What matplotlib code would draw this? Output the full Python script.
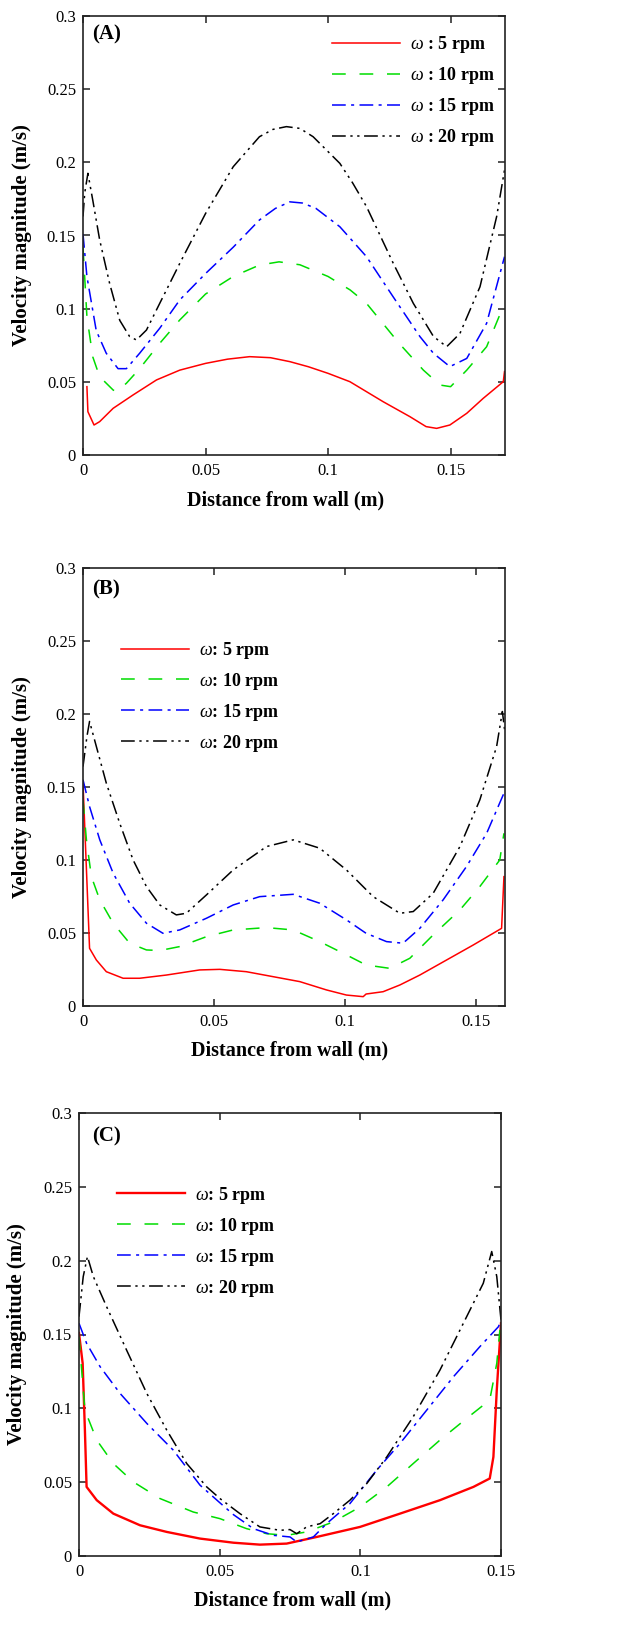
import matplotlib
matplotlib.use("Agg")
import matplotlib.pyplot as plt

plt.rcParams['font.family'] = ['Liberation Serif', 'DejaVu Serif']
plt.rcParams['mathtext.fontset'] = 'custom'
plt.rcParams['mathtext.it'] = 'Liberation Serif:italic'
plt.rcParams['mathtext.rm'] = 'Liberation Serif'

# ---------------- data ----------------
rpm_labels = ["5 rpm", "10 rpm", "15 rpm", "20 rpm"]

# Panel A
A_x_5 = [0.0016, 0.002, 0.0045, 0.0068, 0.0123, 0.0204, 0.030, 0.0395, 0.05, 0.059, 0.068, 0.0765, 0.0844,
         0.092, 0.1, 0.1089, 0.1225, 0.1334, 0.140, 0.1443, 0.1497, 0.1566, 0.1633, 0.1715, 0.172]
A_v_5 = [0.0467, 0.0296, 0.0205, 0.0228, 0.0319, 0.041, 0.0513, 0.058, 0.0626, 0.0655, 0.0672, 0.0665, 0.0638,
         0.0603, 0.0558, 0.0501, 0.0364, 0.0262, 0.0194, 0.0182, 0.0205, 0.0285, 0.0387, 0.0501, 0.057]
A_x_10 = [0.0, 0.0016, 0.004, 0.0068, 0.0123, 0.0136, 0.0177, 0.0231, 0.0313, 0.0395, 0.05, 0.0613,
          0.072, 0.080, 0.0885, 0.1, 0.109, 0.1157, 0.129, 0.1389, 0.1457, 0.15, 0.1566, 0.1647, 0.172]
A_v_10 = [0.142, 0.0945, 0.067, 0.0535, 0.0444, 0.0433, 0.049, 0.059, 0.0763, 0.0923, 0.110, 0.122,
          0.1298, 0.132, 0.130, 0.122, 0.1128, 0.1036, 0.0763, 0.058, 0.0478, 0.0467, 0.058, 0.074, 0.1036]
A_x_15 = [0.0, 0.0016, 0.0054, 0.0095, 0.0143, 0.0177, 0.0231, 0.0313, 0.0395, 0.05, 0.0613, 0.072,
          0.0785, 0.0844, 0.0895, 0.095, 0.1048, 0.1157, 0.1266, 0.1375, 0.143, 0.1497, 0.1566, 0.1647, 0.172]
A_v_15 = [0.151, 0.122, 0.085, 0.0695, 0.059, 0.059, 0.0695, 0.0866, 0.106, 0.124, 0.142, 0.1606,
          0.1685, 0.173, 0.1722, 0.1686, 0.156, 0.1355, 0.108, 0.0809, 0.0695, 0.0604, 0.066, 0.09, 0.1355]
A_x_20 = [0.0, 0.0007, 0.002, 0.004, 0.0068, 0.0109, 0.015, 0.019, 0.0218, 0.0259, 0.0313, 0.0395,
          0.05, 0.0613, 0.072, 0.0775, 0.083, 0.0885, 0.0939, 0.1048, 0.11, 0.1157, 0.1266, 0.1348, 0.143,
          0.1484, 0.1538, 0.162, 0.1688, 0.172]
A_v_20 = [0.163, 0.179, 0.1925, 0.174, 0.147, 0.117, 0.092, 0.081, 0.0786, 0.0854, 0.1036, 0.131,
          0.165, 0.197, 0.2175, 0.2225, 0.2244, 0.2232, 0.2175, 0.1993, 0.186, 0.1697, 0.131, 0.1036, 0.081,
          0.074, 0.083, 0.115, 0.163, 0.1948]

# Panel B
B_x_5 = [0.0, 0.0025, 0.0051, 0.0089, 0.0153, 0.0216, 0.0318, 0.0445, 0.0522, 0.0623, 0.0725, 0.0827,
         0.0929, 0.1005, 0.1069, 0.108, 0.1145, 0.1209, 0.1285, 0.1387, 0.1489, 0.1597, 0.1606]
B_v_5 = [0.153, 0.0395, 0.0315, 0.0235, 0.019, 0.019, 0.0212, 0.0247, 0.0251, 0.0235, 0.0201, 0.0167,
         0.011, 0.0075, 0.0064, 0.0082, 0.0098, 0.0144, 0.0212, 0.0315, 0.0418, 0.0532, 0.0886]
B_x_10 = [0.0, 0.0013, 0.0032, 0.0064, 0.0115, 0.0178, 0.0242, 0.0293, 0.0369, 0.0471, 0.0573, 0.07,
          0.0802, 0.0903, 0.1005, 0.108, 0.117, 0.1247, 0.1336, 0.1438, 0.1514, 0.159, 0.1606]
B_v_10 = [0.141, 0.114, 0.0886, 0.0727, 0.0567, 0.043, 0.0384, 0.038, 0.0407, 0.0475, 0.0521, 0.0537,
          0.0521, 0.0441, 0.035, 0.0281, 0.0258, 0.0327, 0.0487, 0.0658, 0.0818, 0.1, 0.1183]
B_x_15 = [0.0, 0.0025, 0.0064, 0.0115, 0.0178, 0.0242, 0.0305, 0.0369, 0.0471, 0.0573, 0.0674, 0.0802,
          0.0903, 0.1005, 0.108, 0.1158, 0.1221, 0.1285, 0.1374, 0.1463, 0.154, 0.1606]
B_v_15 = [0.155, 0.1366, 0.1138, 0.091, 0.0704, 0.0567, 0.0498, 0.0521, 0.0601, 0.0692, 0.0749, 0.0765,
          0.0704, 0.059, 0.0498, 0.0441, 0.043, 0.0532, 0.0727, 0.0955, 0.1183, 0.1458]
B_x_20 = [0.0, 0.0015, 0.0025, 0.0051, 0.0089, 0.014, 0.0191, 0.0242, 0.0293, 0.0356, 0.0394, 0.0471,
          0.0573, 0.07, 0.0802, 0.0903, 0.1005, 0.1107, 0.1209, 0.126, 0.1336, 0.1438, 0.1514, 0.1578,
          0.16, 0.161]
B_v_20 = [0.164, 0.1846, 0.1949, 0.1777, 0.1526, 0.1252, 0.1001, 0.0818, 0.0692, 0.0624, 0.0635, 0.0761,
          0.0932, 0.1092, 0.1138, 0.1081, 0.0932, 0.0749, 0.0635, 0.0647, 0.0772, 0.1092, 0.1412, 0.1777,
          0.2017, 0.187]

# Panel C
C_x_5 = [0.0, 0.0013, 0.0021, 0.0027, 0.0063, 0.0122, 0.0217, 0.0312, 0.043, 0.0549, 0.0643, 0.0738,
         0.0845, 0.0999, 0.1141, 0.1283, 0.1402, 0.146, 0.1473, 0.1485, 0.15]
C_v_5 = [0.151, 0.1305, 0.085, 0.0468, 0.0378, 0.0287, 0.0208, 0.0163, 0.0118, 0.009, 0.0077, 0.0084,
         0.0129, 0.0197, 0.0287, 0.0378, 0.0468, 0.0525, 0.0671, 0.1124, 0.1576]
C_x_10 = [0.0, 0.0021, 0.0063, 0.0122, 0.0193, 0.0288, 0.0406, 0.0501, 0.0596, 0.0667, 0.0738, 0.0809,
          0.0904, 0.0999, 0.1094, 0.1188, 0.1283, 0.1378, 0.146, 0.1485, 0.1496]
C_v_10 = [0.1485, 0.0988, 0.0785, 0.0626, 0.0502, 0.0389, 0.0298, 0.0253, 0.0185, 0.0151, 0.014, 0.0163,
          0.0231, 0.0332, 0.0468, 0.0626, 0.0785, 0.0932, 0.1056, 0.1305, 0.153]
C_x_15 = [0.0, 0.0027, 0.0075, 0.0146, 0.0241, 0.0335, 0.043, 0.0501, 0.0549, 0.062, 0.0691, 0.075,
          0.0774, 0.0833, 0.088, 0.0963, 0.1058, 0.1141, 0.1236, 0.1331, 0.1425, 0.1491, 0.15]
C_v_15 = [0.1576, 0.144, 0.1282, 0.1101, 0.0898, 0.0717, 0.048, 0.036, 0.028, 0.0185, 0.014, 0.0129,
          0.0095, 0.0129, 0.0219, 0.0355, 0.0581, 0.0762, 0.0988, 0.1214, 0.1418, 0.1553, 0.1598]
C_x_20 = [0.0, 0.0015, 0.003, 0.0051, 0.0098, 0.0169, 0.0241, 0.0312, 0.0383, 0.0454, 0.0501, 0.0572,
          0.0643, 0.0714, 0.075, 0.0774, 0.0809, 0.0857, 0.0904, 0.0963, 0.1023, 0.1094, 0.1188, 0.1283,
          0.1378, 0.1437, 0.1467, 0.1485, 0.15]
C_v_20 = [0.1621, 0.1892, 0.2028, 0.1892, 0.1689, 0.1395, 0.1101, 0.0852, 0.0626, 0.0468, 0.0389, 0.0287,
          0.0197, 0.0174, 0.0179, 0.0151, 0.0197, 0.0219, 0.0287, 0.0378, 0.0491, 0.0671, 0.0943, 0.1259,
          0.1621, 0.1847, 0.2062, 0.1892, 0.1598]

y_ticks = [0, 0.05, 0.1, 0.15, 0.2, 0.25, 0.3]
y_ticklabels = ["0", "0.05", "0.1", "0.15", "0.2", "0.25", "0.3"]
x_ticks = [0, 0.05, 0.1, 0.15]
x_ticklabels = ["0", "0.05", "0.1", "0.15"]

# ---------------- styles ----------------
colors = ['#ff0000', '#00dd00', '#0000ff', '#000000']
styles = ['-', (0, (9, 9)), (0, (9, 3.5, 2, 3.5)), (0, (9, 3, 1.5, 3, 1.5, 3))]
widths = [1.1, 1.1, 1.1, 1.1]

W, H = 622, 1644
fig = plt.figure(figsize=(W / 100, H / 100), dpi=100)

panels = [
    dict(tag='(A)', xs=[A_x_5, A_x_10, A_x_15, A_x_20], vs=[A_v_5, A_v_10, A_v_15, A_v_20],
         box=(83, 16, 505, 455), xmax=0.1722, sep=' : ', leg=(0.59, 0.958), tagpos=(0.021, 0.957),
         xl=(0.48, -0.08), yl=(-0.121, 0.50), lw5=1.1),
    dict(tag='(B)', xs=[B_x_5, B_x_10, B_x_15, B_x_20], vs=[B_v_5, B_v_10, B_v_15, B_v_20],
         box=(83, 568, 505, 1006), xmax=0.161, sep=': ', leg=(0.09, 0.836), tagpos=(0.021, 0.952),
         xl=(0.49, -0.079), yl=(-0.121, 0.50), lw5=1.1),
    dict(tag='(C)', xs=[C_x_5, C_x_10, C_x_15, C_x_20], vs=[C_v_5, C_v_10, C_v_15, C_v_20],
         box=(79, 1113, 501, 1556), xmax=0.15, sep=': ', leg=(0.09, 0.838), tagpos=(0.031, 0.946),
         xl=(0.507, -0.078), yl=(-0.123, 0.50), lw5=1.7),
]

for p in panels:
    l, t, r, b = p['box']
    ax = fig.add_axes([l / W, 1 - b / H, (r - l) / W, (b - t) / H])
    for i in range(4):
        lw = p['lw5'] if i == 0 else widths[i]
        ax.plot(p['xs'][i], p['vs'][i], color=colors[i], linestyle=styles[i], linewidth=lw,
                label=r'$\omega$' + p['sep'] + rpm_labels[i])
    ax.set_xlim(0, p['xmax'])
    ax.set_ylim(0, 0.3)
    ax.set_xticks(x_ticks)
    ax.set_xticklabels(x_ticklabels)
    ax.set_yticks(y_ticks)
    ax.set_yticklabels(y_ticklabels)
    ax.tick_params(direction='in', length=5, width=1.1, top=True, right=True,
                   labelsize=12, pad=5, color='#222222')
    ax.tick_params(axis='x', pad=6)
    for s in ax.spines.values():
        s.set_linewidth(1.2)
        s.set_color('#222222')
    ax.set_xlabel('Distance from wall (m)', fontsize=14.5, fontweight='bold')
    ax.set_ylabel('Velocity magnitude (m/s)', fontsize=15, fontweight='bold')
    ax.xaxis.set_label_coords(*p['xl'])
    ax.yaxis.set_label_coords(*p['yl'])
    ax.text(p['tagpos'][0], p['tagpos'][1], p['tag'], transform=ax.transAxes,
            fontsize=15, fontweight='bold', ha='left', va='center')
    ax.legend(loc='upper left', bbox_to_anchor=p['leg'], frameon=False,
              handlelength=3.75, handletextpad=0.55, labelspacing=0.55,
              borderpad=0, borderaxespad=0,
              prop={'size': 13, 'weight': 'bold'})

fig.savefig('out.png', dpi=100)
